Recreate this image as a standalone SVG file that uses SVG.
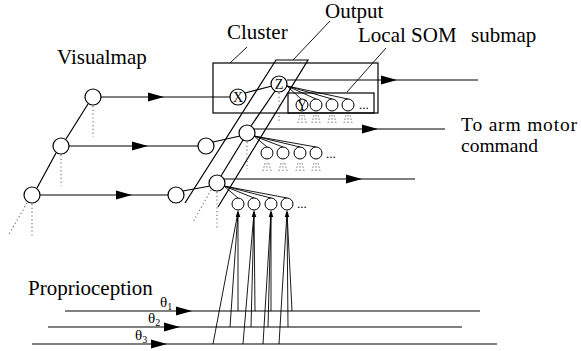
<svg xmlns="http://www.w3.org/2000/svg" width="581" height="351" viewBox="0 0 581 351">
<style>
.l{stroke:#000;stroke-width:1.2;fill:none}
.t{stroke:#000;stroke-width:0.9;fill:none}
.d{stroke:#777;stroke-width:1.2;stroke-dasharray:1.2,2.6;fill:none}
.m{stroke:#555;stroke-width:0.8;stroke-dasharray:1.5,1.8;fill:none}
.n{stroke:#000;stroke-width:1.2;fill:#fff}
.s{stroke:#000;stroke-width:1;fill:#fff}
text{font-family:'Liberation Serif','DejaVu Serif',serif;fill:#000}
.lab{font-size:21px}
.cmd{font-size:19.5px}
.nl{font-size:14px;text-anchor:middle}
.th{font-size:15px}
.dots{font-size:13px}
</style>
<defs>
<path id="a" d="M0,0 L-16,-4.5 L-16,4.5 Z" fill="#000"/>
<path id="u" d="M0,0 L-2.3,7 L2.3,7 Z" fill="#000"/>
<g id="tm">
<line x1="-4" y1="10" x2="-2" y2="2" class="m"/>
<line x1="0" y1="10" x2="0" y2="2" class="m"/>
<line x1="4" y1="10" x2="2" y2="2" class="m"/>
</g>
</defs>
<rect width="581" height="351" fill="#fff"/>

<g id="labels">
<text class="lab" x="227" y="39">Cluster</text>
<text class="lab" x="57" y="64">Visualmap</text>
<text class="lab" x="325" y="18">Output</text>
<text class="lab" x="358" y="42">Local SOM<tspan x="471">submap</tspan></text>
<text class="cmd" x="461" y="130.5" textLength="116" lengthAdjust="spacing">To arm motor</text>
<text class="cmd" x="461" y="152.3">command</text>
<text class="lab" x="28" y="295">Proprioception</text>
<text class="th" x="160" y="307">θ<tspan font-size="10" dy="3">1</tspan></text>
<text class="th" x="148" y="323">θ<tspan font-size="10" dy="3">2</tspan></text>
<text class="th" x="135" y="340">θ<tspan font-size="10" dy="3">3</tspan></text>
</g>

<g id="cluster">
<rect x="213" y="63" width="165" height="50" class="l"/>
<line x1="230" y1="63" x2="247" y2="47" class="t"/>
</g>
<g id="output-plane">
<path d="M185,203 L276,60 L308,60 L218,207" class="l"/>
<line x1="293" y1="60" x2="330" y2="21" class="t"/>
</g>
<g id="local-som">
<rect x="288" y="93" width="86" height="20" class="l"/>
<line x1="347" y1="92" x2="386" y2="48" class="t"/>
</g>

<g id="connectors">
<line x1="88" y1="104" x2="66" y2="139" class="l"/>
<line x1="56" y1="153" x2="37" y2="188" class="l"/>
<line x1="93" y1="106" x2="93" y2="137" class="d"/>
<line x1="61" y1="155" x2="61" y2="186" class="d"/>
<line x1="32" y1="204" x2="32" y2="236" class="d"/>
<line x1="27" y1="203" x2="8" y2="236" class="d"/>
<line x1="101" y1="97" x2="230" y2="97" class="l"/>
<use href="#a" x="164" y="97"/>
<line x1="69" y1="146" x2="198" y2="146" class="l"/>
<use href="#a" x="148" y="146"/>
<line x1="40" y1="195" x2="168" y2="195" class="l"/>
<use href="#a" x="132" y="195"/>
<line x1="245" y1="93" x2="272" y2="86" class="l"/>
<line x1="213" y1="142" x2="240" y2="136" class="l"/>
<line x1="183" y1="191" x2="210" y2="186" class="l"/>
<line x1="275" y1="91" x2="251" y2="126" class="l"/>
<line x1="243" y1="140" x2="221" y2="176" class="l"/>
<line x1="279" y1="93" x2="279" y2="122" class="d"/>
<line x1="247" y1="142" x2="247" y2="169" class="d"/>
<line x1="217" y1="192" x2="217" y2="228" class="d"/>
<line x1="211" y1="190" x2="193" y2="222" class="d"/>
<line x1="287" y1="80" x2="478" y2="80" class="l"/>
<use href="#a" x="397" y="80"/>
<line x1="254" y1="129" x2="445" y2="129" class="l"/>
<use href="#a" x="378" y="129"/>
<line x1="224" y1="179" x2="415" y2="179" class="l"/>
<use href="#a" x="362" y="179"/>
<line x1="287" y1="86" x2="301" y2="99" class="t"/>
<line x1="287" y1="86" x2="316" y2="99" class="t"/>
<line x1="287" y1="86" x2="332" y2="99" class="t"/>
<line x1="287" y1="86" x2="348" y2="99" class="t"/>
<line x1="254" y1="136" x2="267" y2="147" class="t"/>
<line x1="254" y1="136" x2="283" y2="147" class="t"/>
<line x1="254" y1="136" x2="300" y2="147" class="t"/>
<line x1="254" y1="136" x2="316" y2="147" class="t"/>
<line x1="224" y1="186" x2="238" y2="198" class="t"/>
<line x1="224" y1="186" x2="254" y2="198" class="t"/>
<line x1="224" y1="186" x2="271" y2="198" class="t"/>
<line x1="224" y1="186" x2="287" y2="198" class="t"/>
<use href="#tm" x="302" y="113"/>
<use href="#tm" x="316" y="113"/>
<use href="#tm" x="332" y="113"/>
<use href="#tm" x="348" y="113"/>
<use href="#tm" x="267" y="161"/>
<use href="#tm" x="283" y="161"/>
<use href="#tm" x="300" y="161"/>
<use href="#tm" x="316" y="161"/>
<line x1="65" y1="311" x2="480" y2="311" class="l"/>
<use href="#a" x="192" y="311"/>
<line x1="48" y1="327" x2="462" y2="327" class="l"/>
<use href="#a" x="180" y="327"/>
<line x1="32" y1="344" x2="497" y2="344" class="l"/>
<use href="#a" x="167" y="344"/>
<line x1="213" y1="344" x2="238" y2="212" class="t"/>
<line x1="230" y1="327" x2="238" y2="212" class="t"/>
<line x1="238" y1="311" x2="238" y2="212" class="t"/>
<line x1="243" y1="344" x2="254" y2="212" class="t"/>
<line x1="251" y1="327" x2="254" y2="212" class="t"/>
<line x1="255" y1="311" x2="254" y2="212" class="t"/>
<line x1="263" y1="344" x2="271" y2="212" class="t"/>
<line x1="268" y1="327" x2="271" y2="212" class="t"/>
<line x1="271" y1="311" x2="271" y2="212" class="t"/>
<line x1="279" y1="344" x2="287" y2="212" class="t"/>
<line x1="288" y1="327" x2="287" y2="212" class="t"/>
<line x1="292" y1="311" x2="287" y2="212" class="t"/>
<use href="#u" x="238" y="210"/>
<use href="#u" x="254" y="210"/>
<use href="#u" x="271" y="210"/>
<use href="#u" x="287" y="210"/>
</g>

<g id="visual-map-nodes">
<circle id="v1" cx="93" cy="97" r="8" class="n"/>
<circle id="v2" cx="61" cy="146" r="8" class="n"/>
<circle id="v3" cx="32" cy="195" r="8" class="n"/>
</g>
<g id="node-x"><circle cx="238" cy="97" r="8" class="n"/><text class="nl" x="238" y="102">X</text></g>
<g id="node-z"><circle cx="279" cy="84" r="8" class="n"/><text class="nl" x="279" y="89">Z</text></g>
<g id="node-ml"><circle cx="206" cy="146" r="8" class="n"/></g>
<g id="node-mr"><circle cx="247" cy="133" r="8" class="n"/></g>
<g id="node-bl"><circle cx="176" cy="195" r="8" class="n"/></g>
<g id="node-br"><circle cx="217" cy="183" r="8" class="n"/></g>

<g id="submap-top">
<circle cx="302" cy="105" r="6" class="s"/><text class="nl" x="302" y="109.5" font-size="12">Y</text>
<circle cx="316" cy="105" r="6" class="s"/>
<circle cx="332" cy="105" r="6" class="s"/>
<circle cx="348" cy="105" r="6" class="s"/>
<text class="dots" x="359" y="109">...</text>
</g>
<g id="submap-mid">
<circle cx="267" cy="153" r="6" class="s"/>
<circle cx="283" cy="153" r="6" class="s"/>
<circle cx="300" cy="153" r="6" class="s"/>
<circle cx="316" cy="153" r="6" class="s"/>
<text class="dots" x="326" y="158">...</text>
</g>
<g id="submap-bottom">
<circle cx="238" cy="204" r="6" class="s"/>
<circle cx="254" cy="204" r="6" class="s"/>
<circle cx="271" cy="204" r="6" class="s"/>
<circle cx="287" cy="204" r="6" class="s"/>
<text class="dots" x="297" y="208">...</text>
</g>
</svg>
